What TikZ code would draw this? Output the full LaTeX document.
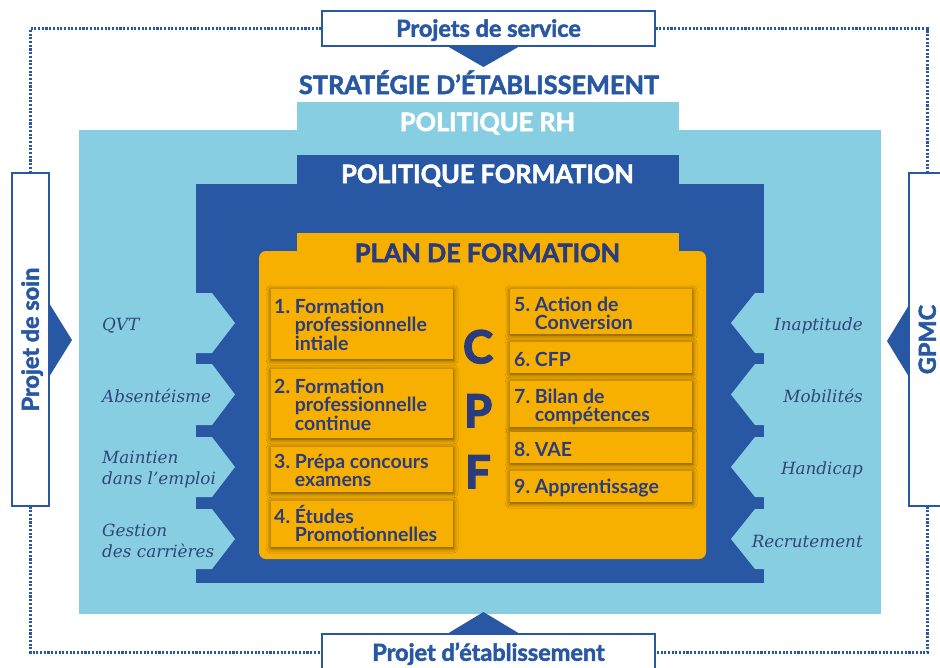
\documentclass[tikz,border=0pt]{standalone}
\usepackage{fontspec}
\setmainfont{Lato}
\newfontfamily\heavyfont{Lato}[BoldFeatures={FakeBold=2.2}]
\newfontfamily\cpffont{Lato}[BoldFeatures={FakeBold=3.5}]
\newfontfamily\labserif{DejaVu Serif}
\usetikzlibrary{shadows.blur}
\definecolor{lblue}{RGB}{135,206,227}
\definecolor{dblue}{RGB}{40,88,164}
\definecolor{orng}{RGB}{248,176,0}
\definecolor{navy}{RGB}{42,60,126}
\definecolor{labcol}{RGB}{52,68,120}
\newcommand\mylines[2]{\vtop{\baselineskip=#1\lineskiplimit=-100pt\lineskip=0pt #2}}
\tikzset{
  framebox/.style={draw=dblue, line width=1.3pt, fill=white, inner sep=0pt,
    text=dblue, font=\heavyfont\bfseries\fontsize{23.5}{26}\selectfont, text height=16.5pt, text depth=0pt},
  dotline/.style={dblue, line width=2.2pt, dash pattern=on 2.1pt off 1.6pt},
  hd/.style={font=\heavyfont\bfseries\fontsize{25.3}{28}\selectfont, inner sep=0pt, anchor=base},
  obox/.style={fill=orng, inner sep=0pt, anchor=north west, minimum width=182pt,
    blur shadow={shadow xshift=0pt, shadow yshift=-1pt, shadow blur radius=5pt, shadow blur steps=6, shadow opacity=60}},
  otext/.style={text=navy, font=\bfseries\fontsize{19.5}{18.5}\selectfont, inner sep=0pt, anchor=base west},
  llab/.style={text=labcol, font=\labserif\itshape\fontsize{16.8}{21}\selectfont, inner sep=0pt, anchor=base west},
  rlab/.style={text=labcol, font=\labserif\itshape\fontsize{16.8}{21}\selectfont, inner sep=0pt, anchor=base east},
  cpf/.style={text=navy, font=\cpffont\bfseries\fontsize{45}{50}\selectfont, inner sep=0pt, anchor=base west},
}
\begin{document}
\begin{tikzpicture}[x=1pt,y=-1pt]
\useasboundingbox (0,0) rectangle (940,667);

% nested layers
\fill[lblue] (79,130) rectangle (881,614);
\fill[lblue] (297,102) rectangle (679,131);
\fill[dblue] (196,184) rectangle (764,583);
\fill[dblue] (297,155) rectangle (679,185);
\fill[orng, rounded corners=7pt] (259,251) rectangle (706,559);
\fill[orng] (297,233) rectangle (679,256);

% chevrons
\foreach \t/\b in {293/353,364/425,437/497,509/569}{
  \pgfmathsetmacro\m{(\t+\b)/2}
  \fill[lblue] (195,\t) -- (212,\t) -- (235,\m) -- (212,\b) -- (195,\b) -- cycle;
  \fill[lblue] (765,\t) -- (755,\t) -- (731,\m) -- (755,\b) -- (765,\b) -- cycle;
}

% headings
\node[hd, text=dblue] (strat) at (479,94) {STRATÉGIE D’ÉTABLISSEMENT};
\node[hd, text=white] (rh) at (487.5,131) {POLITIQUE RH};
\node[hd, text=white] (pf) at (487.5,183) {POLITIQUE FORMATION};
\node[hd, text=navy] (plan) at (487.5,262) {PLAN DE FORMATION};

% framed boxes
\node[framebox, minimum width=333pt, minimum height=35pt] (top) at (488.5,28.5) {Projets de service};
\node[framebox, minimum width=333pt, minimum height=37pt] (bot) at (488.5,652.5) {Projet d’établissement};
\node[framebox, rotate=90, minimum width=333pt, minimum height=37pt] (soin) at (30.5,339.5) {Projet de soin};
\node[framebox, rotate=90, minimum width=333pt, minimum height=37pt] (gpmc) at (927.5,339.5) {GPMC};

% triangles
\fill[dblue] (447,46) -- (520,46) -- (483.5,67) -- cycle;
\fill[dblue] (447,634) -- (520,634) -- (483.5,612) -- cycle;
\fill[dblue] (49,303) -- (49,377) -- (72,340) -- cycle;
\fill[dblue] (909,305) -- (909,377) -- (887,341) -- cycle;

% dotted frame
\draw[dotline] (top.west) -| (soin.east);
\draw[dotline] (top.east) -| (gpmc.east);
\draw[dotline] (soin.west) |- (bot.west);
\draw[dotline] (gpmc.west) |- (bot.east);

% side labels
\node[llab] (qvt) at (102,330) {QVT};
\node[llab] (abs) at (102,402) {Absentéisme};
\node[llab] (mai) at (102,463) {\mylines{21pt}{\hbox{Maintien}\hbox{dans l’emploi}}};
\node[llab] (ges) at (102,536) {\mylines{21pt}{\hbox{Gestion}\hbox{des carrières}}};
\node[rlab] (ina) at (863,330) {Inaptitude};
\node[rlab] (mob) at (863,402) {Mobilités};
\node[rlab] (han) at (863,474) {Handicap};
\node[rlab] (rec) at (863,547) {Recrutement};

% orange boxes
\node[obox, minimum height=70pt] (b1) at (271,289) {};
\node[obox, minimum height=69pt] (b2) at (271,369) {};
\node[obox, minimum height=45pt] (b3) at (271,447) {};
\node[obox, minimum height=46pt] (b4) at (271,501) {};
\node[obox, minimum height=45pt] (b5) at (510,289) {};
\node[obox, minimum height=31pt] (b6) at (510,342) {};
\node[obox, minimum height=46pt] (b7) at (510,381) {};
\node[obox, minimum height=31pt] (b8) at (510,432) {};
\node[obox, minimum height=31pt] (b9) at (510,471) {};

\node[otext] (t1) at (274,313) {1.\ \mylines{18.5pt}{\hbox{Formation}\hbox{professionnelle}\hbox{intiale}}};
\node[otext] (t2) at (274,393) {2.\ \mylines{18.5pt}{\hbox{Formation}\hbox{professionnelle}\hbox{continue}}};
\node[otext] (t3) at (274,468) {3.\ \mylines{18.5pt}{\hbox{Prépa concours}\hbox{examens}}};
\node[otext] (t4) at (274,523) {4.\ \mylines{18.5pt}{\hbox{Études}\hbox{Promotionnelles}}};
\node[otext] (t5) at (514,311) {5.\ \mylines{18.5pt}{\hbox{Action de}\hbox{Conversion}}};
\node[otext] (t6) at (514,366) {6.\ CFP};
\node[otext] (t7) at (514,403) {7.\ \mylines{18.5pt}{\hbox{Bilan de}\hbox{compétences}}};
\node[otext] (t8) at (514,456) {8.\ VAE};
\node[otext] (t9) at (514,493) {9.\ Apprentissage};

% CPF
\node[cpf] (c) at (463,363) {C};
\node[cpf] (p) at (464,427) {P};
\node[cpf] (f) at (465,488) {F};
\end{tikzpicture}
\end{document}
